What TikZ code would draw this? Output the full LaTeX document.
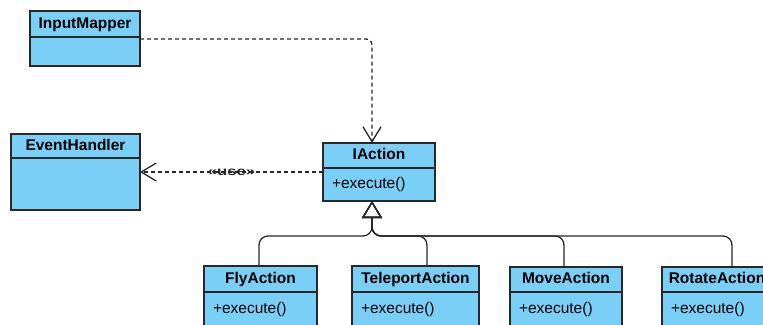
\documentclass[tikz,border=0pt]{standalone}
\usepackage{fontspec}
\setmainfont{Liberation Sans}
\usetikzlibrary{arrows.meta}
\definecolor{classblue}{RGB}{121,207,245}
\definecolor{edgegrey}{RGB}{40,40,40}

\begin{document}
\begin{tikzpicture}[x=1pt,y=-1pt,
  head/.style = {draw=edgegrey,fill=classblue,line width=1.2pt,outer sep=0pt,inner sep=0pt,anchor=north west,
    text height=11pt,text depth=3pt,font=\fontsize{15.5}{17}\selectfont\bfseries},
  body/.style = {draw=edgegrey,fill=classblue,line width=1.2pt,outer sep=0pt,inner xsep=9pt,inner ysep=0pt,anchor=north,
    align=left,text height=11pt,text depth=3pt,font=\fontsize{15.5}{17}\selectfont},
  dep/.style = {draw=edgegrey,line width=1.3pt,dash pattern=on 4pt off 3pt,rounded corners=6pt,
    -{Straight Barb[length=15pt,width=18pt]}},
  inh/.style = {draw=edgegrey,line width=1.3pt,rounded corners=9pt,
    -{Triangle[open,length=17pt,width=20pt]}}]
\useasboundingbox (0,0) rectangle (763,324);
\clip (0,0) rectangle (763,324);

\node[head,minimum width=110pt,minimum height=26pt] (im) at (30,11) {InputMapper};
\node[body,text width=92pt,minimum height=29pt] (imb) at (im.south) {};
\node[head,minimum width=129pt,minimum height=24pt] (eh) at (11,134) {EventHandler};
\node[body,text width=111pt,minimum height=52pt] (ehb) at (eh.south) {};
\node[head,minimum width=112pt,minimum height=25pt] (ia) at (323,143) {IAction};
\node[body,text width=94pt,minimum height=33pt] (iab) at (ia.south) {+execute()};

\node[head,minimum width=113pt,minimum height=26pt] (fly) at (204,266) {FlyAction};
\node[body,text width=95pt,minimum height=35pt] (flyb) at (fly.south) {+execute()};
\node[head,minimum width=127pt,minimum height=26pt] (tel) at (352,266) {TeleportAction};
\node[body,text width=109pt,minimum height=34pt] (telb) at (tel.south) {+execute()};
\node[head,minimum width=112pt,minimum height=25pt] (mov) at (510,267) {MoveAction};
\node[body,text width=94pt,minimum height=35pt] (movb) at (mov.south) {+execute()};
\node[head,minimum width=110pt,minimum height=25pt] (rot) at (662,267) {RotateAction};
\node[body,text width=92pt,minimum height=35pt] (rotb) at (rot.south) {+execute()};

\coordinate (u) at ([yshift=-4pt]iab.north west);
\coordinate (j) at (372,236);

\draw[dep] ([yshift=-2pt]im.south east) -| ([xshift=-7pt]ia.north);
\draw[dep] (u) -- (u -| ehb.east)
  node[midway,text=edgegrey,font=\fontsize{12}{13}\selectfont\bfseries] {\scalebox{1.4}[1]{«use»}};

\draw[inh] ([xshift=-1.5pt]fly.north) |- (j) -- (j |- iab.south);
\draw[inh] ([xshift=11.5pt]tel.north) |- (j) -- (j |- iab.south);
\draw[inh] ([xshift=-2pt]mov.north) |- (j) -- (j |- iab.south);
\draw[inh] ([xshift=15pt]rot.north) |- (j) -- (j |- iab.south);
\end{tikzpicture}
\end{document}
